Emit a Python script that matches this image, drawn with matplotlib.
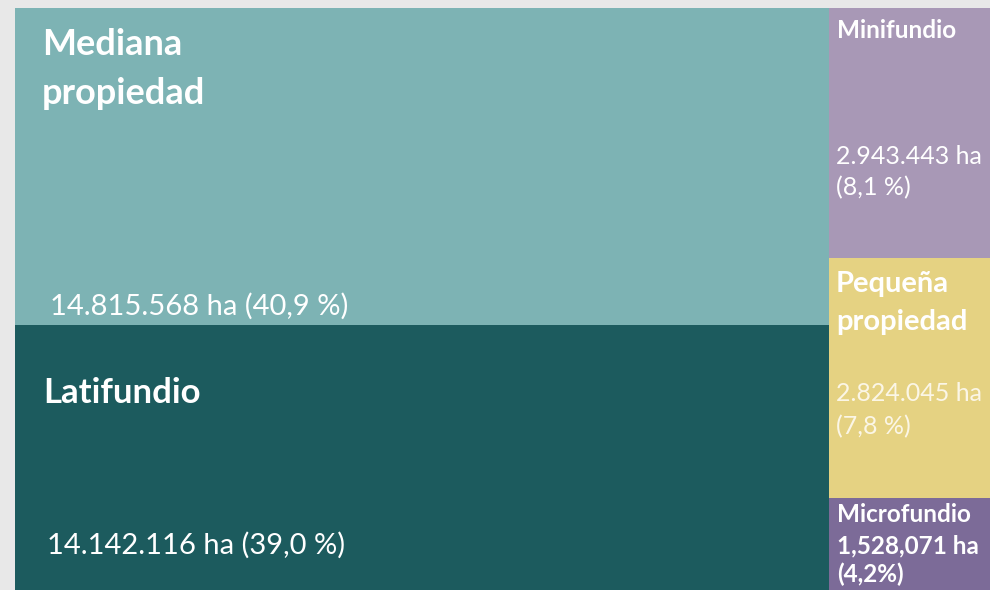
"""
Treemap: distribución de la superficie agraria por tipo de propiedad.
Celdas calculadas a partir de las hectáreas (slice-and-dice en dos columnas).
"""
import matplotlib
matplotlib.use('Agg')
import matplotlib.pyplot as plt
from matplotlib.patches import Rectangle

# ---- Data ------------------------------------------------------------
categories = ['Mediana propiedad', 'Latifundio', 'Minifundio',
              'Pequeña propiedad', 'Microfundio']
hectares = [14815568, 14142116, 2943443, 2824045, 1528071]
column = [0, 0, 1, 1, 1]          # which treemap column each cell sits in
name_labels = ['Mediana\npropiedad', 'Latifundio', 'Minifundio',
               'Pequeña\npropiedad', 'Microfundio']
value_labels = ['14.815.568 ha (40,9 %)', '14.142.116 ha (39,0 %)',
                '2.943.443 ha\n(8,1 %)', '2.824.045 ha\n(7,8 %)',
                '1,528,071 ha\n(4,2%)']

# ---- Style -----------------------------------------------------------
colors = ['#7db3b4', '#1c5b5e', '#a898b6', '#e5d282', '#7c6b98']
value_colors = ['white', 'white', 'white', '#fbf6e6', 'white']
name_sizes = [26, 25, 17.5, 21, 17.5]
value_sizes = [21, 21, 18, 18, 17.5]
value_bold = [False, False, False, False, True]
name_spacing = [1.6, 1.2, 1.2, 1.55, 1.2]
value_spacing = [1.2, 1.2, 1.45, 1.55, 1.3]
# text offsets from cell top (px): name top, value centre
name_dy = [20, 52, 11, 13, 5]
value_dy = [298, 220, 164, 152, 62]
name_dx = [27, 28, 8, 7, 8]
value_dx = [35, 32, 7, 7, 8]

BG = '#e8e8e8'
FONT = ['Lato', 'DejaVu Sans']

# treemap canvas in pixel units (extends past the visible frame)
X0, Y0, W, H = 15, 8, 1019, 620

fig = plt.figure(figsize=(9.9, 5.9), dpi=100, facecolor=BG)
ax = fig.add_axes([0, 0, 1, 1])
ax.set_xlim(0, 990)
ax.set_ylim(590, 0)
ax.axis('off')

total = sum(hectares)
col_tot = [sum(h for h, c in zip(hectares, column) if c == k) for k in (0, 1)]
col_w = [W * t / total for t in col_tot]
col_x = [X0, X0 + col_w[0]]
col_y = [Y0, Y0]

for i, (h, c) in enumerate(zip(hectares, column)):
    cw = col_w[c]
    ch = H * h / col_tot[c]
    x, y = col_x[c], col_y[c]
    ax.add_patch(Rectangle((x, y), cw, ch, facecolor=colors[i],
                           edgecolor='none'))
    col_y[c] += ch

    ax.text(x + name_dx[i], y + name_dy[i], name_labels[i],
            fontsize=name_sizes[i], fontweight='bold', color='white',
            family=FONT, va='top', ha='left', linespacing=name_spacing[i])
    ax.text(x + value_dx[i], y + value_dy[i], value_labels[i],
            fontsize=value_sizes[i], color=value_colors[i],
            fontweight='bold' if value_bold[i] else 'normal',
            family=FONT, va='center', ha='left',
            linespacing=value_spacing[i])

fig.savefig('out.png', dpi=100, facecolor=BG)
